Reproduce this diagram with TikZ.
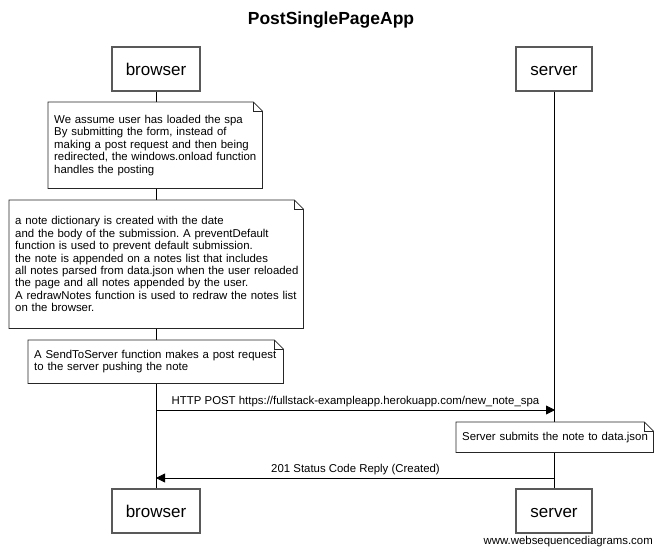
\documentclass[tikz,border=0pt]{standalone}
\usepackage{fontspec}
\setmainfont{Liberation Sans}
\usetikzlibrary{arrows.meta, positioning}
\frenchspacing

% folded corner outline for a note node
\newcommand{\dogear}[1]{%
  \draw[notedraw] (#1.north west) -- ([xshift=-9pt]#1.north east)
    -- ([yshift=-9pt]#1.north east) -- (#1.south east) -- (#1.south west) -- cycle;
  \draw[notedraw] ([xshift=-9pt]#1.north east) |- ([yshift=-9pt]#1.north east);
}
% one unbreakable line of note text
\newcommand{\nline}[1]{\mbox{#1}}

\begin{document}
\begin{tikzpicture} [x=1pt, y=-1pt,
    actor/.style = {draw=black!65, line width=1.2pt, fill=white, minimum height=44pt,
                    inner sep=0pt, text height=12.5pt, text depth=0pt,
                    font=\fontsize{17}{20}\selectfont},
    note/.style = {fill=white, anchor=north west, align=left, inner xsep=6pt, inner ysep=0pt,
                   font=\fontsize{11.4}{12.45}\selectfont},
    notedraw/.style = {black!85, line width=0.8pt},
    lifeline/.style = {black, line width=0.8pt},
    msg/.style = {-{Triangle[length=9pt, width=9pt]}, line width=0.8pt},
    lbl/.style = {font=\fontsize{11.4}{13}\selectfont, inner sep=0pt}]

\useasboundingbox (0,0) rectangle (661,554);

\node (title) at (331,20) {\fontsize{17.5}{20}\selectfont\bfseries PostSinglePageApp};

\node (bro1) [actor, minimum width=88pt] at (156,69)  {browser};
\node (srv1) [actor, minimum width=76pt] at (554,69)  {server};
\node (bro2) [actor, minimum width=88pt] at (156,511) {browser};
\node (srv2) [actor, minimum width=76pt] at (554,511) {server};

\draw [lifeline] (bro1) -- (bro2);
\draw [lifeline] (srv1) -- (srv2);

\node (n1) [note, text width=202pt, minimum height=86pt] at (48,102)
  {\nline{We assume user has loaded the spa}\\
   \nline{By submitting the form, instead of}\\
   \nline{making a post request and then being}\\
   \nline{redirected, the windows.onload function}\\
   \nline{handles the posting}};
\dogear{n1}

\node (n2) [note, text width=282pt, minimum height=128pt] at (9,200)
  {\nline{a note dictionary is created with the date}\\
   \nline{and the body of the submission. A preventDefault}\\
   \nline{function is used to prevent default submission.}\\
   \nline{the note is appended on a notes list that includes}\\
   \nline{all notes parsed from data.json when the user reloaded}\\
   \nline{the page and all notes appended by the user.}\\
   \nline{A redrawNotes function is used to redraw the notes list}\\
   \nline{on the browser.}};
\dogear{n2}

\node (n3) [note, text width=243pt, minimum height=43pt] at (28,340)
  {\nline{A SendToServer function makes a post request}\\
   \nline{to the server pushing the note}};
\dogear{n3}

\coordinate (postA) at (156,410);
\coordinate (postB) at (555,410);
\draw [msg] (postA) -- node [lbl, above=3pt] {HTTP POST https://fullstack-exampleapp.herokuapp.com/new\_note\_spa} (postB);

\node (n4) [note, text width=185pt, minimum height=30pt] at (456,422)
  {\nline{Server submits the note to data.json}};
\dogear{n4}

\coordinate (replyA) at (555,478);
\coordinate (replyB) at (156,478);
\draw [msg] (replyA) -- node [lbl, above=3pt] {201 Status Code Reply (Created)} (replyB);

\node (wsd) [anchor=east, inner sep=0pt, font=\fontsize{11.4}{13}\selectfont] at (653,542)
  {www.websequencediagrams.com};

\end{tikzpicture}
\end{document}
